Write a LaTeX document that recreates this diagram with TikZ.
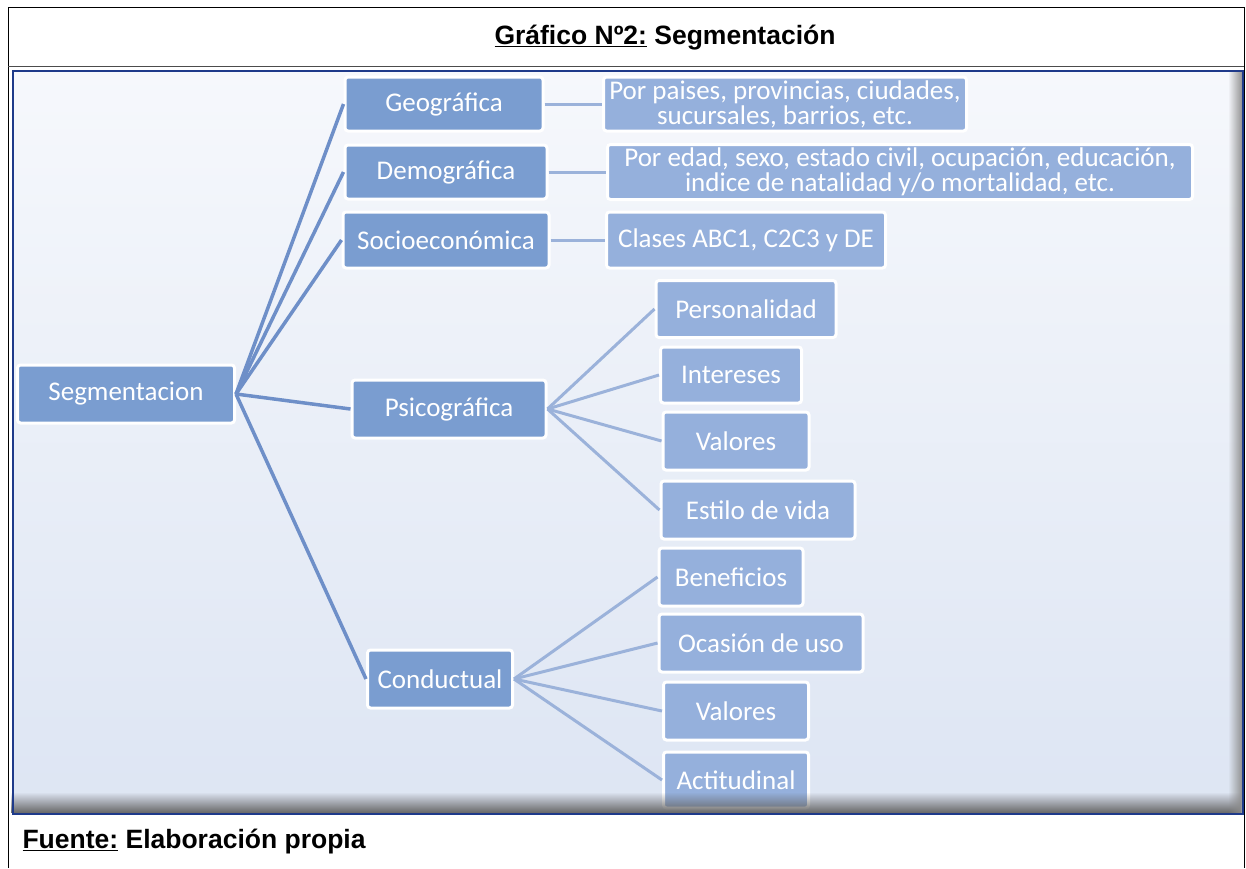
\documentclass[tikz,border=0pt]{standalone}
\usepackage{fontspec}
\setmainfont{Liberation Sans}
\newfontfamily\diafont{Carlito}
\usetikzlibrary{fadings}

\definecolor{nodeblue}{HTML}{7A9DD0}
\definecolor{leafblue}{HTML}{95B0DC}
\definecolor{edgeblue}{HTML}{6E8FC8}
\definecolor{leafedge}{HTML}{9BB2DA}
\definecolor{frameblue}{HTML}{1E3A8A}
\definecolor{bgtop}{HTML}{F6F8FC}
\definecolor{bgmid}{HTML}{C6D4EB}
\definecolor{bgbot}{HTML}{DDE5F3}

\tikzset{
  segbox/.style={draw=white, line width=3pt, rounded corners=3pt, fill=nodeblue,
    text=white, font=\diafont\fontsize{27}{25}\selectfont, inner sep=0pt},
  leafbox/.style={segbox, fill=leafblue},
  trunk/.style={draw=edgeblue, line width=3.5pt},
  twig/.style={draw=leafedge, line width=3pt}
}

\begin{document}
\begin{tikzpicture}[x=1pt,y=-1pt]
        \useasboundingbox (0,0) rectangle (1246,868);
        \fill[white] (0,0) rectangle (1246,868);
        % background of the chart
        \shade[top color=bgtop, middle color=bgmid, bottom color=bgbot]
          (12,70) rectangle (1244,814);
        % table frame
        \draw[black, line width=1pt] (8,868) -- (8,7) -- (1244,7) -- (1244,868);
        \draw[black!70, line width=1pt] (8,66) -- (1244,66);
        \node[font=\bfseries\fontsize{26.5}{30}\selectfont] (titulo) at (665,38)
          {\underline{Gráfico Nº2:} Segmentación};
        \node[font=\bfseries\fontsize{26.5}{30}\selectfont, anchor=west] (fuente) at (19,842)
          {\underline{Fuente:} Elaboración propia};
        % root and first level
        \node[segbox, minimum width=217, minimum height=58] (seg) at (126,394) {Segmentacion};
        \node[segbox, minimum width=198, minimum height=54] (geo) at (444,104) {Geográfica};
        \node[segbox, minimum width=202, minimum height=54] (demo) at (446,172) {Demográfica};
        \node[segbox, minimum width=206, minimum height=56] (socio) at (446,240) {Socioeconómica};
        \node[segbox, minimum width=194, minimum height=58] (psico) at (449,409) {Psicográfica};
        \node[segbox, minimum width=145, minimum height=58] (cond) at (440,679) {Conductual};
        % second level
        \node[leafbox, minimum width=363, minimum height=54, align=center] (paises) at (785,104)
          {Por paises, provincias, ciudades,\\sucursales, barrios, etc.};
        \node[leafbox, minimum width=585, minimum height=55, align=center] (edad) at (900,172)
          {Por edad, sexo, estado civil, ocupación, educación,\\indice de natalidad y/o mortalidad, etc.};
        \node[leafbox, minimum width=279, minimum height=56] (clases) at (746,240) {Clases ABC1, C2C3 y DE};
        \node[leafbox, minimum width=180, minimum height=57] (perso) at (746,309) {Personalidad};
        \node[leafbox, minimum width=141, minimum height=56] (inter) at (731,375) {Intereses};
        \node[leafbox, minimum width=146, minimum height=58] (valp) at (736,441) {Valores};
        \node[leafbox, minimum width=194, minimum height=58] (estilo) at (758,510) {Estilo de vida};
        \node[leafbox, minimum width=144, minimum height=58] (benef) at (731,577) {Beneficios};
        \node[leafbox, minimum width=204, minimum height=58] (ocas) at (761,643) {Ocasión de uso};
        \node[leafbox, minimum width=145, minimum height=58] (valc) at (736,711) {Valores};
        \node[leafbox, minimum width=145, minimum height=56] (acti) at (736,780) {Actitudinal};
        % connectors
        \foreach \n in {geo,demo,socio,psico,cond}
          \draw[trunk] (seg.east) -- (\n.west);
        \draw[twig] (geo.east) -- (paises.west);
        \draw[twig] (demo.east) -- (edad.west);
        \draw[twig] (socio.east) -- (clases.west);
        \foreach \n in {perso,inter,valp,estilo}
          \draw[twig] (psico.east) -- (\n.west);
        \foreach \n in {benef,ocas,valc,acti}
          \draw[twig] (cond.east) -- (\n.west);
        % shadows and border of the chart
        \fill[black!60, path fading=north] (12,792) rectangle (1244,813);
        \fill[black!45, path fading=west] (1228,70) rectangle (1243,813);
        \draw[frameblue, line width=2.5pt] (13,71) rectangle (1243,814);
      \end{tikzpicture}
\end{document}
